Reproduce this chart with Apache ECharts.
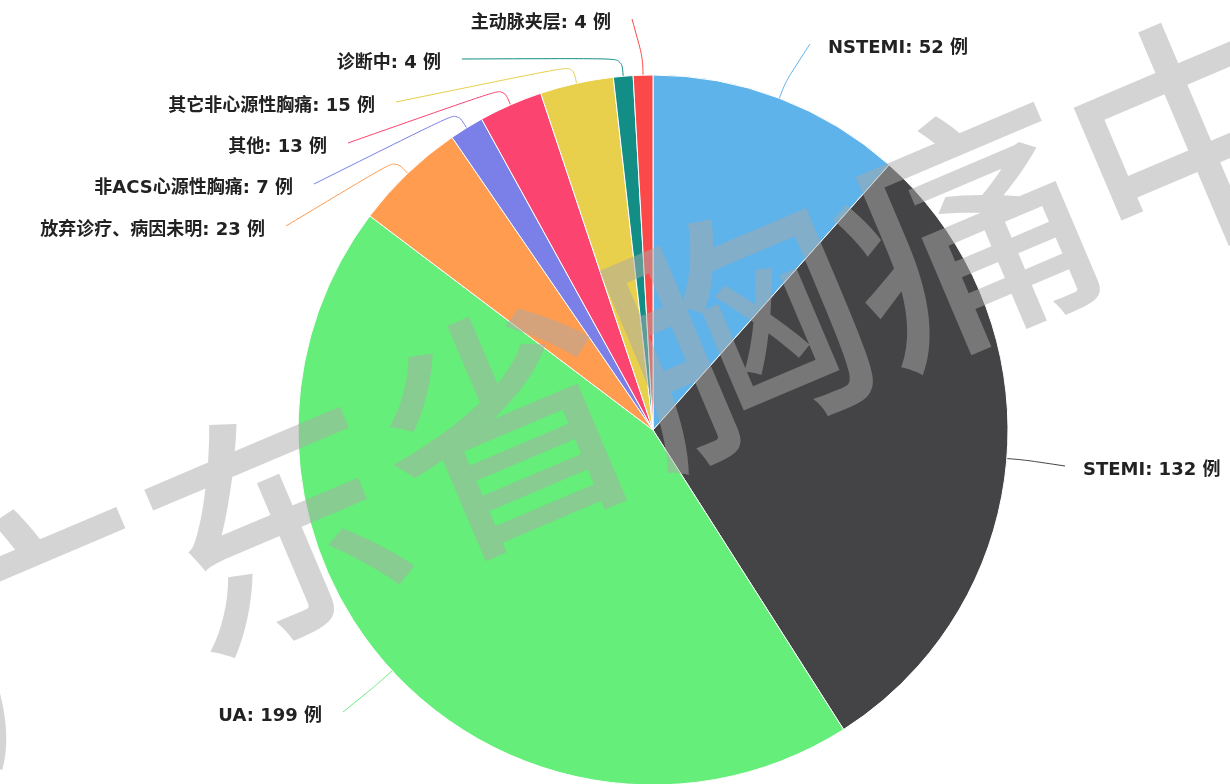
<!DOCTYPE html>
<html>
<head>
<meta charset="utf-8">
<title>胸痛诊断分布</title>
<script src="https://cdn.jsdelivr.net/npm/echarts@6/dist/echarts.min.js"></script>
<style>
  html, body { margin: 0; padding: 0; background: #fff; }
  #chart { width: 1230px; height: 784px; }
</style>
</head>
<body>
<div id="chart"></div>
<script>
// data
var names = ['NSTEMI', 'STEMI', 'UA', '放弃诊疗、病因未明', '非ACS心源性胸痛', '其他', '其它非心源性胸痛', '诊断中', '主动脉夹层'];
var counts = [52, 132, 199, 23, 7, 13, 15, 4, 4];
var colors = ['#5db3ea', '#444446', '#66ee7a', '#ff9c4f', '#7b7fe8', '#fb4570', '#e8cf4c', '#138e86', '#fb4848'];

// where each label sits: [x, y, align]
var labelSpots = [
    [828, 48, 'left'],
    [1083, 470, 'left'],
    [322, 716, 'right'],
    [265, 230, 'right'],
    [293, 188, 'right'],
    [327, 147, 'right'],
    [375, 106, 'right'],
    [441, 63, 'right'],
    [611, 23, 'right']
];

var watermark = '广东省胸痛中心';

var myChart = echarts.init(document.getElementById('chart'));

var pieData = names.map(function (n, i) {
    return { name: n, value: counts[i] };
});

// watermark characters laid out along a slanted line (东 sits near 275,525)
var wmAngle = 23 * Math.PI / 180;
var wmStep = 250;
var wmStart = [275 - wmStep * Math.cos(wmAngle), 525 + wmStep * Math.sin(wmAngle)];
var wmChars = watermark.split('').map(function (ch, i) {
    return {
        type: 'text',
        x: wmStart[0] + i * wmStep * Math.cos(wmAngle),
        y: wmStart[1] - i * wmStep * Math.sin(wmAngle),
        rotation: wmAngle,
        z: 100,
        silent: true,
        style: {
            text: ch,
            font: '500 250px "Noto Sans CJK SC"',
            fill: 'rgba(170,170,170,0.5)',
            align: 'center',
            verticalAlign: 'middle'
        }
    };
});

var option = {
    animation: false,
    backgroundColor: '#fff',
    color: colors,
    series: [{
        type: 'pie',
        center: [653, 430],
        radius: 355,
        startAngle: 90,
        clockwise: true,
        avoidLabelOverlap: false,
        data: pieData,
        itemStyle: { borderColor: '#fff', borderWidth: 1 },
        label: {
            show: true,
            formatter: '{b}: {c} 例',
            fontSize: 18,
            fontWeight: 'bold',
            fontFamily: '"DejaVu Sans", "Noto Sans CJK SC", sans-serif',
            color: '#222',
            textBorderColor: '#fff',
            textBorderWidth: 1
        },
        labelLine: { show: true, length: 18, length2: 10, smooth: 0.35, lineStyle: { width: 1 } },
        emphasis: { disabled: true },
        labelLayout: function (p) {
            var s = labelSpots[p.dataIndex];
            var pts = p.labelLinePoints;
            var endX = s[2] === 'left' ? s[0] - 18 : s[0] + 21;
            var out = { x: s[0], y: s[1], align: s[2], verticalAlign: 'middle' };
            if (pts) {
                out.labelLinePoints = [pts[0], pts[1], [endX, s[1] - 4]];
            }
            return out;
        }
    }],
    graphic: wmChars
};

myChart.setOption(option);
</script>
</body>
</html>
